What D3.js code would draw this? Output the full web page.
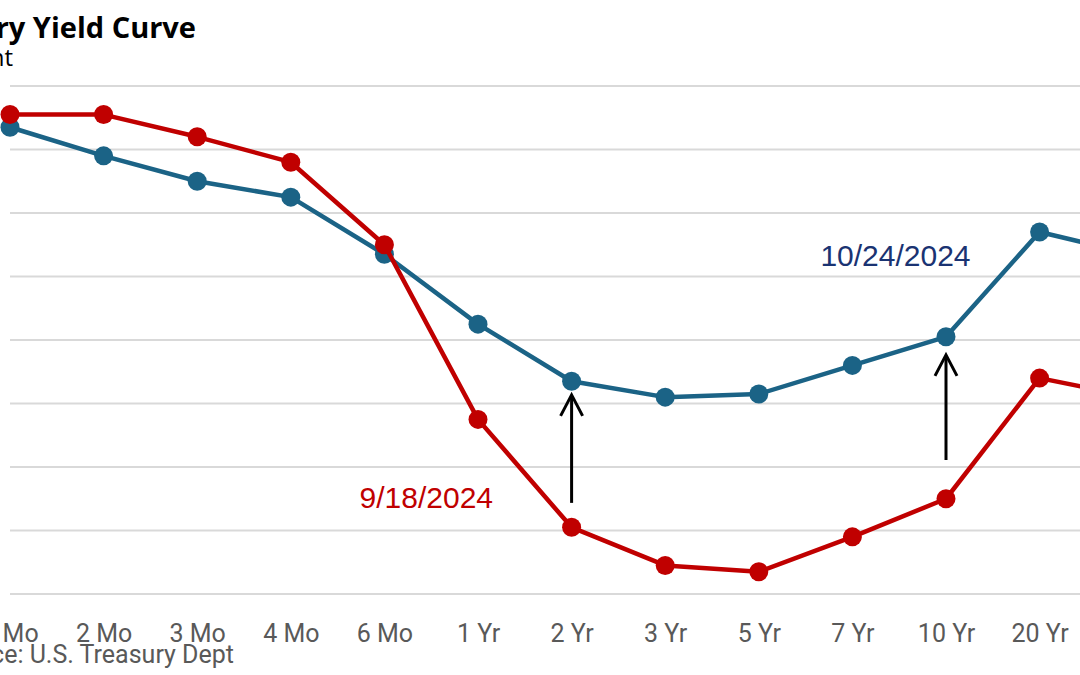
<!DOCTYPE html>
<html>
<head>
<meta charset="utf-8">
<script src="https://cdn.jsdelivr.net/npm/d3@7"></script>
<style>
  html, body { margin: 0; padding: 0; background: #ffffff; overflow: hidden; }
  svg { display: block; }
</style>
</head>
<body>
<svg id="chart" width="1080" height="675"></svg>
<script>
// ---- Data ----
const categories = ["1 Mo", "2 Mo", "3 Mo", "4 Mo", "6 Mo", "1 Yr", "2 Yr", "3 Yr", "5 Yr", "7 Yr", "10 Yr", "20 Yr", "30 Yr"];
const yieldsSep18 = [4.91, 4.91, 4.84, 4.76, 4.50, 3.95, 3.61, 3.49, 3.47, 3.58, 3.70, 4.08, 4.02];
const yieldsOct24 = [4.87, 4.78, 4.70, 4.65, 4.47, 4.25, 4.07, 4.02, 4.03, 4.12, 4.21, 4.54, 4.47];
const yTicks = [3.4, 3.6, 3.8, 4.0, 4.2, 4.4, 4.6, 4.8, 5.0];
const seriesLabels = ["9/18/2024", "10/24/2024"];
const arrowCats = ["2 Yr", "10 Yr"];
const arrowFrom = [3.687, 3.822];
const arrowTo = [4.027, 4.153];

// ---- Layout ----
const svg = d3.select("#chart");
const x = d3.scalePoint().domain(categories).range([10, 10 + 12 * 93.6]);
const y = d3.scaleLinear().domain([3.4, 5.0]).range([594, 86]);

const colRed = "#c00000";
const colBlue = "#1b6386";

// gridlines
svg.append("g").selectAll("line").data(yTicks).join("line")
  .attr("x1", 10).attr("x2", 1200)
  .attr("y1", d => y(d)).attr("y2", d => y(d))
  .attr("stroke", "#d9d9d9").attr("stroke-width", 2);

// x axis labels
const xAxis = d3.axisBottom(x).tickSize(0).tickPadding(0);
const gx = svg.append("g").attr("transform", "translate(0,594)").call(xAxis);
gx.select(".domain").remove();
gx.selectAll("text")
  .attr("y", 48).attr("dy", null)
  .attr("fill", "#595959")
  .style("font-family", "Roboto, 'Liberation Sans', sans-serif")
  .style("font-size", "25px");

// lines
const line = d3.line().x((d, i) => x(categories[i])).y(d => y(d));

function drawSeries(values, color) {
  const g = svg.append("g");
  g.append("path").datum(values)
    .attr("d", line)
    .attr("fill", "none")
    .attr("stroke", color)
    .attr("stroke-width", 4.5)
    .attr("stroke-linejoin", "round");
  g.selectAll("circle").data(values).join("circle")
    .attr("cx", (d, i) => x(categories[i]))
    .attr("cy", d => y(d))
    .attr("r", 9.5)
    .attr("fill", color);
}
drawSeries(yieldsOct24, colBlue);
drawSeries(yieldsSep18, colRed);

// arrows
const arrowG = svg.append("g");
arrowCats.forEach((c, i) => {
  const ax = x(c), y0 = y(arrowFrom[i]), y1 = y(arrowTo[i]);
  arrowG.append("line")
    .attr("x1", ax).attr("x2", ax).attr("y1", y0).attr("y2", y1 + 1)
    .attr("stroke", "#000").attr("stroke-width", 3);
  arrowG.append("path")
    .attr("d", `M${ax - 11},${y1 + 21} L${ax},${y1} L${ax + 11},${y1 + 21}`)
    .attr("fill", "none").attr("stroke", "#000").attr("stroke-width", 3)
    .attr("stroke-linejoin", "miter");
});

// series labels
svg.append("text")
  .attr("x", x("2 Yr") - 212).attr("y", 508)
  .attr("fill", colRed)
  .style("font-family", "'Liberation Sans', Arial, sans-serif")
  .style("font-size", "30px")
  .text(seriesLabels[0]);
svg.append("text")
  .attr("x", x("7 Yr") - 32).attr("y", 266)
  .attr("fill", "#1a3372")
  .style("font-family", "'Liberation Sans', Arial, sans-serif")
  .style("font-size", "30px")
  .text(seriesLabels[1]);

// title, subtitle, source (chart is offset to the left, so text is clipped)
svg.append("text")
  .attr("x", 196).attr("y", 38)
  .attr("text-anchor", "end")
  .attr("fill", "#000")
  .style("font-family", "'Open Sans', 'Liberation Sans', sans-serif")
  .style("font-weight", "bold")
  .style("font-size", "29px")
  .text("U.S. Treasury Yield Curve");
svg.append("text")
  .attr("x", 13).attr("y", 66)
  .attr("text-anchor", "end")
  .attr("fill", "#000")
  .style("font-family", "'Open Sans', 'Liberation Sans', sans-serif")
  .style("font-size", "24px")
  .text("Percent");
svg.append("text")
  .attr("x", 234).attr("y", 663)
  .attr("text-anchor", "end")
  .attr("fill", "#595959")
  .style("font-family", "Roboto, 'Liberation Sans', sans-serif")
  .style("font-size", "25px")
  .text("Source: U.S. Treasury Dept");
</script>
</body>
</html>
